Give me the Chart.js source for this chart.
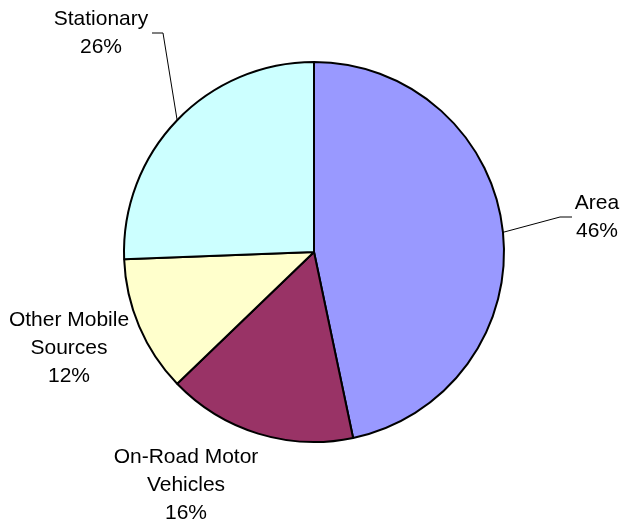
<!DOCTYPE html>
<html>
<head>
<meta charset="utf-8">
<script src="https://cdn.jsdelivr.net/npm/chart.js@4"></script>
<style>
  html, body { margin: 0; padding: 0; background: #fff; }
  #wrap { width: 621px; height: 525px; }
</style>
</head>
<body>
<div id="wrap"><canvas id="fontes"></canvas></div>
<script>
  // dados do gráfico
  var categorias = ["Area", "On-Road Motor Vehicles", "Other Mobile Sources", "Stationary"];
  var valores = [46.7, 16.1, 11.6, 25.6];
  var percentuais = ["46%", "16%", "12%", "26%"]; // como aparecem no rótulo
  var cores = ["#9999FF", "#993366", "#FFFFCC", "#CCFFFF"];

  // linhas de texto de cada rótulo
  var rotulos = [
    ["Area"],
    ["On-Road Motor", "Vehicles"],
    ["Other Mobile", "Sources"],
    ["Stationary"]
  ];

  // posição do rótulo em relação ao centro (dx, dy da primeira linha) e linha guia
  var layoutRotulos = [
    { dx: 283, dy: -49, guia: [[246, -35], [258, -35]] },
    { dx: -128, dy: 205 },
    { dx: -245, dy: 68 },
    { dx: -213, dy: -233, guia: [[-151, -219], [-162, -219]] }
  ];

  var pluginRotulos = {
    id: 'rotulos',
    afterDatasetsDraw: function(chart) {
      var ctx = chart.ctx;
      var meta = chart.getDatasetMeta(0);
      ctx.save();
      ctx.font = '21px "Liberation Sans", Arial, sans-serif';
      ctx.fillStyle = '#000';
      ctx.textAlign = 'center';
      ctx.textBaseline = 'middle';
      meta.data.forEach(function(arc, i) {
        var cx = arc.x, cy = arc.y;
        var lay = layoutRotulos[i];
        if (lay.guia) {
          var meio = (arc.startAngle + arc.endAngle) / 2;
          var px = cx + Math.cos(meio) * arc.outerRadius;
          var py = cy + Math.sin(meio) * arc.outerRadius;
          ctx.beginPath();
          ctx.strokeStyle = '#000';
          ctx.lineWidth = 1;
          ctx.moveTo(px, py);
          ctx.lineTo(cx + lay.guia[0][0], cy + lay.guia[0][1]);
          ctx.lineTo(cx + lay.guia[1][0], cy + lay.guia[1][1]);
          ctx.stroke();
        }
        var linhas = rotulos[i].concat([percentuais[i]]);
        linhas.forEach(function(t, k) {
          ctx.fillText(t, cx + lay.dx, cy + lay.dy + k * 28);
        });
      });
      ctx.restore();
    }
  };

  var ctx = document.getElementById('fontes').getContext('2d');
  var grafico = new Chart(ctx, {
    type: 'pie',
    data: {
      labels: categorias,
      datasets: [{
        data: valores,
        backgroundColor: cores,
        borderColor: '#000',
        borderWidth: 2
      }]
    },
    options: {
      responsive: true,
      maintainAspectRatio: false,
      animation: false,
      layout: { padding: { left: 123, right: 116, top: 61, bottom: 82 } },
      plugins: {
        legend: { display: false },
        tooltip: { enabled: false }
      }
    },
    plugins: [pluginRotulos]
  });
</script>
</body>
</html>
